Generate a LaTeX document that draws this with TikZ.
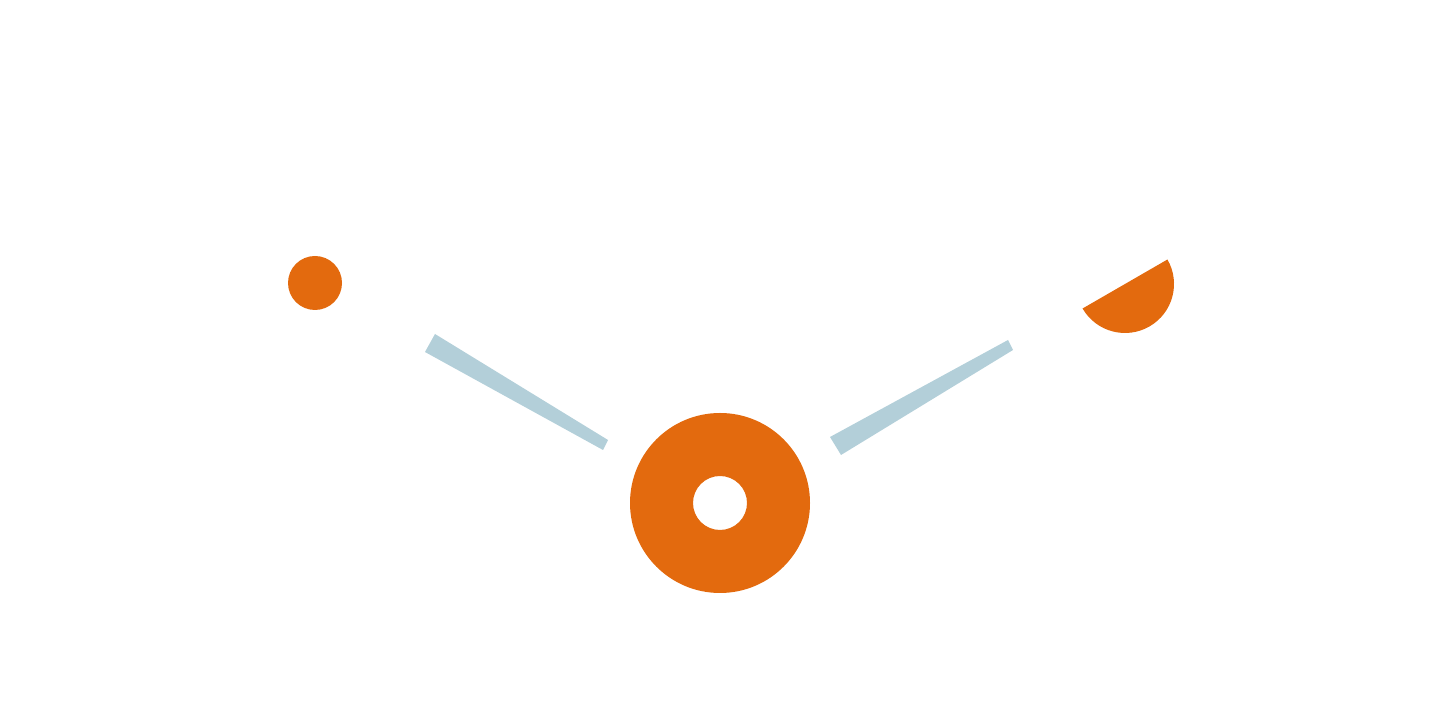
\documentclass[tikz,border=0pt]{standalone}
\definecolor{org}{HTML}{E36A0E}
\definecolor{bar}{HTML}{B3CFD9}
\begin{document}
\begin{tikzpicture}[x=0.5pt,y=0.5pt]
\useasboundingbox (0,0) rectangle (1440,705);
\fill[org] (315,422) circle (27);
\fill[org,even odd rule] (720,202) circle (90) (720,202) circle (27);
\fill[org] (1125,421) ++(210:49) arc (210:390:49) -- cycle;
\fill[bar] (425,353) -- (435,371) -- (608,265) -- (603,255) -- cycle;
\fill[bar] (830,268) -- (841,250) -- (1013,355) -- (1008,365) -- cycle;
\end{tikzpicture}
\end{document}
